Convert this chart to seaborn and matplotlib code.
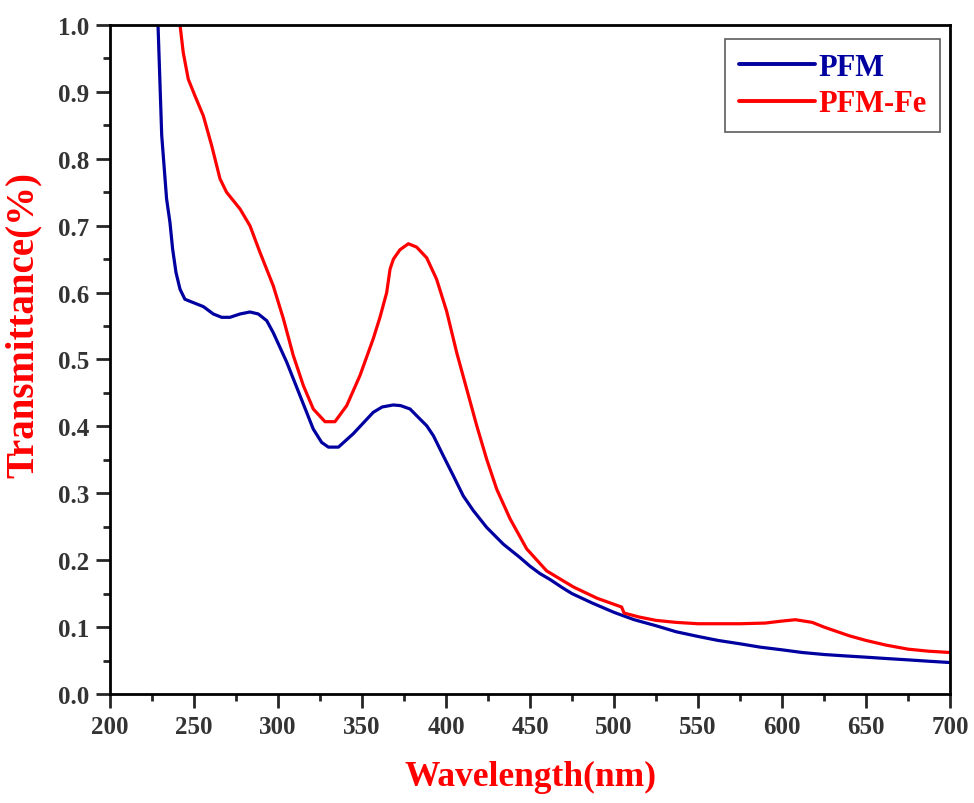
import matplotlib
matplotlib.use("Agg")
import matplotlib.pyplot as plt
import seaborn as sns
import pandas as pd
from matplotlib.ticker import MultipleLocator, FormatStrFormatter

# ---------------- data ----------------
pfm_wl = [227, 228.6, 230.8, 233.7, 235.7, 237.3, 239.3, 241.7, 244.6, 249.6, 255.6, 261.5,
          266.5, 271.4, 277.4, 283.3, 288.3, 293.3, 297.2, 305.2, 313.1, 321.0, 326, 330, 336,
          344.8, 350, 356.7, 362, 368.6, 373, 378.6, 384.5, 388.5, 392.5, 398.4, 404.4, 410.3,
          416.3, 424.2, 434.1, 444, 450, 455.9, 462, 469.8, 475, 487, 500, 512, 525, 537,
          550, 562, 575, 587, 600, 612, 625, 637, 650, 662, 675, 687, 700]
pfm_t = [1.06, 1.0, 0.835, 0.740, 0.705, 0.665, 0.630, 0.605, 0.590, 0.585, 0.579, 0.568,
         0.563, 0.563, 0.568, 0.571, 0.568, 0.558, 0.540, 0.496, 0.446, 0.396, 0.376, 0.369,
         0.369, 0.389, 0.403, 0.421, 0.429, 0.432, 0.431, 0.426, 0.411, 0.401, 0.386, 0.356,
         0.326, 0.296, 0.274, 0.249, 0.224, 0.204, 0.191, 0.180, 0.171, 0.158, 0.150, 0.136,
         0.122, 0.111, 0.102, 0.093, 0.086, 0.080, 0.075, 0.070, 0.066, 0.062, 0.059, 0.057,
         0.055, 0.053, 0.051, 0.049, 0.047]

pfmfe_wl = [241, 241.7, 243.6, 246.6, 250.6, 255.6, 260.5, 265.5, 269.4, 277.4, 283.3,
            289.3, 297.2, 303.2, 309.1, 315.1, 321, 328, 333.9, 340.9, 348.8, 356.7, 360.7,
            364.7, 366.7, 368.7, 372.6, 377.6, 382.5, 388.5, 394.4, 400.4, 406.4, 412.3,
            418.3, 424.2, 430.2, 438.1, 448, 459.9, 475.8, 490, 504.5, 506, 515, 525, 537,
            550, 575, 590, 600, 608, 618, 625, 640, 650, 662, 675, 687, 700]
pfmfe_t = [1.03, 1.0, 0.959, 0.919, 0.894, 0.864, 0.820, 0.770, 0.750, 0.725, 0.700,
           0.660, 0.610, 0.561, 0.506, 0.461, 0.426, 0.407, 0.407, 0.431, 0.476, 0.531, 0.563,
           0.600, 0.635, 0.650, 0.664, 0.673, 0.668, 0.652, 0.620, 0.572, 0.510, 0.456,
           0.401, 0.351, 0.306, 0.262, 0.217, 0.184, 0.160, 0.143, 0.130, 0.121, 0.115, 0.110,
           0.107, 0.105, 0.105, 0.106, 0.109, 0.111, 0.107, 0.100, 0.087, 0.080, 0.073, 0.067,
           0.064, 0.062]

series_names = ["PFM", "PFM-Fe"]
colors = {"PFM": "#0000A0", "PFM-Fe": "#FF0000"}

df = pd.concat([
    pd.DataFrame({"Wavelength": pfm_wl, "T": pfm_t, "Sample": series_names[0]}),
    pd.DataFrame({"Wavelength": pfmfe_wl, "T": pfmfe_t, "Sample": series_names[1]}),
], ignore_index=True)

# ---------------- plot ----------------
sns.set_style("ticks")
plt.rcParams["font.family"] = ["Liberation Serif", "DejaVu Serif"]
plt.rcParams["font.weight"] = "bold"

fig = plt.figure(figsize=(9.74, 8.04), dpi=100)
ax = fig.add_axes([0.1129, 0.1356, 0.8625, 0.8321])

sns.lineplot(data=df, x="Wavelength", y="T", hue="Sample", palette=colors,
             estimator=None, sort=False, linewidth=2.3, ax=ax)

ax.set_xlim(200, 700)
ax.set_ylim(0, 1.0)
ax.xaxis.set_major_locator(MultipleLocator(50))
ax.xaxis.set_minor_locator(MultipleLocator(25))
ax.yaxis.set_major_locator(MultipleLocator(0.1))
ax.yaxis.set_minor_locator(MultipleLocator(0.05))
ax.yaxis.set_major_formatter(FormatStrFormatter("%.1f"))

for s in ax.spines.values():
    s.set_linewidth(2.0)
    s.set_color("black")

ax.tick_params(axis="both", which="major", direction="out", length=10, width=2,
               labelsize=18, labelcolor="#333333", pad=5)
ax.tick_params(axis="both", which="minor", direction="out", length=5, width=2)
ax.tick_params(top=False, right=False, which="both")
for lab in ax.get_xticklabels() + ax.get_yticklabels():
    lab.set_fontweight("bold")

ax.set_xlabel("Wavelength(nm)", fontsize=25.5, fontweight="bold", color="#FF0000", labelpad=16)
ax.set_ylabel("Transmittance(%)", fontsize=28, fontweight="bold", color="#FF0000")
ax.yaxis.set_label_coords(-0.081, 0.553)

leg = ax.legend(loc="upper right", bbox_to_anchor=(0.988, 0.979), fontsize=22,
                frameon=True, fancybox=False, edgecolor="#333333", handlelength=2.5,
                handletextpad=0.1, borderpad=0.45, labelspacing=0.25, borderaxespad=0.0,
                title=None)
leg.get_frame().set_linewidth(1.2)
for line in leg.get_lines():
    line.set_linewidth(2.8)
for txt in leg.get_texts():
    txt.set_color(colors[txt.get_text()])
    txt.set_fontweight("bold")

fig.savefig("out.png", dpi=100)
